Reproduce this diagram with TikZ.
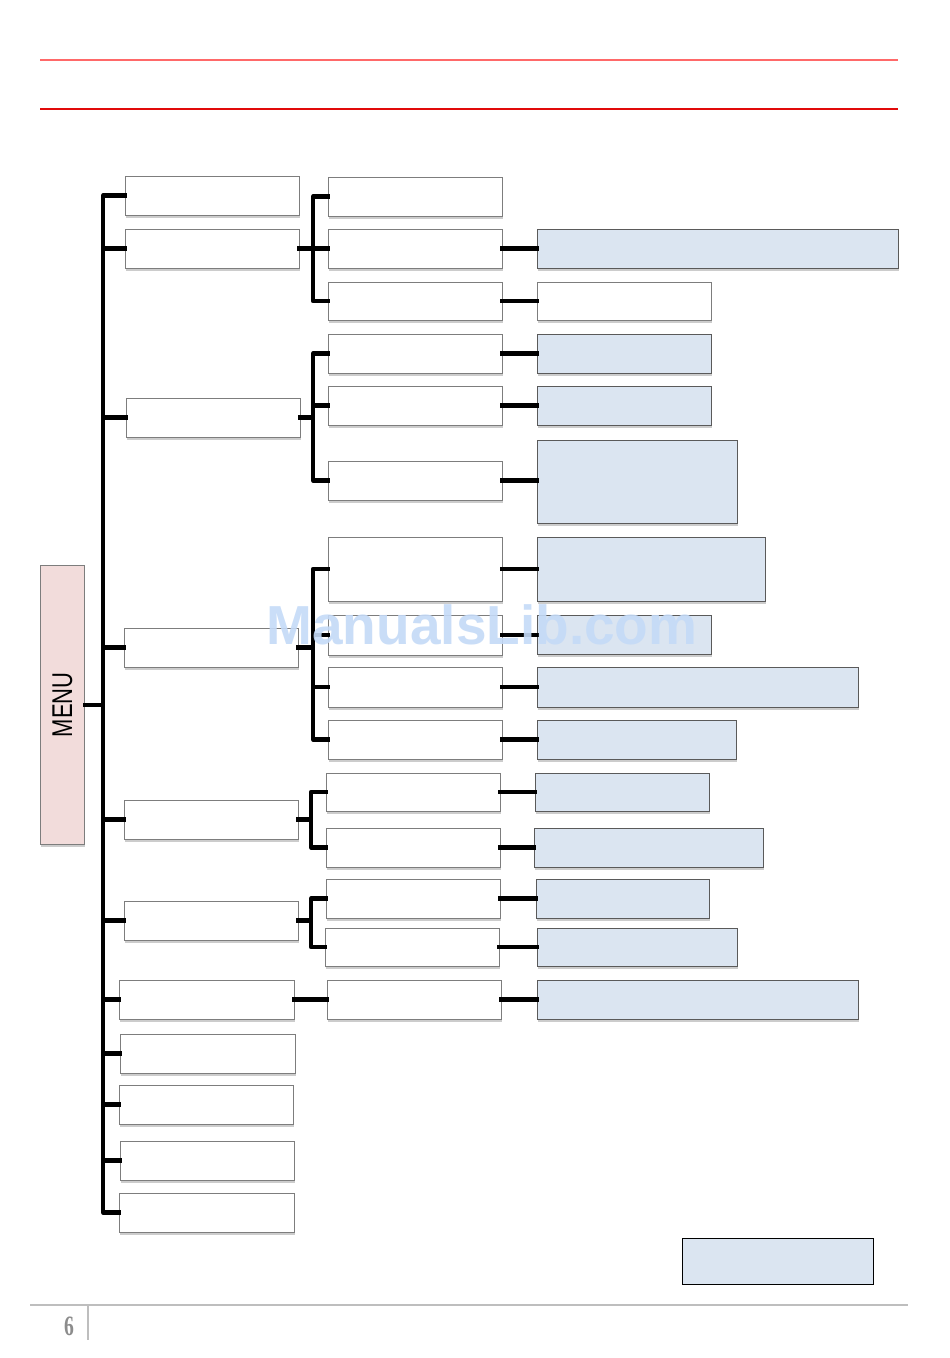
\documentclass[tikz,border=0pt]{standalone}
\usepackage{fontspec}
\setmainfont{Liberation Serif}
\newfontfamily\sansf{Liberation Sans}
\usetikzlibrary{shadows}
\definecolor{pinkfill}{RGB}{242,220,219}
\definecolor{bluefill}{RGB}{219,229,241}
\definecolor{wborder}{RGB}{125,125,125}
\definecolor{bborder}{RGB}{90,90,90}
\definecolor{redA}{RGB}{255,105,105}
\definecolor{redB}{RGB}{225,10,10}
\definecolor{footgray}{RGB}{190,190,190}
\definecolor{numgray}{RGB}{140,140,140}
\definecolor{wmark}{RGB}{196,218,247}
\tikzset{
  boxbase/.style={rectangle, anchor=north west, inner sep=0pt, outer sep=0pt, line width=0.8pt},
  shad/.style={drop shadow={opacity=0.4, shadow xshift=1pt, shadow yshift=-3pt}},
  wbox/.style={boxbase, draw=wborder, fill=white, shad},
  bbox/.style={boxbase, draw=bborder, fill=bluefill, shad},
  conn/.style={line width=4.2pt, line join=round, line cap=rect},
}
\newcommand\wb[5]{\node[wbox, minimum width=#4pt, minimum height=#5pt] (#1) at (#2,#3) {};}
\newcommand\bb[5]{\node[bbox, minimum width=#4pt, minimum height=#5pt] (#1) at (#2,#3) {};}
\begin{document}
\begin{tikzpicture}[x=1pt,y=-1pt]
\useasboundingbox (0,0) rectangle (950,1358);
% header lines
\coordinate (hl1) at (40,60); \coordinate (hr1) at (898,60);
\coordinate (hl2) at (40,109); \coordinate (hr2) at (898,109);
\draw[redA, line width=1.6pt] (hl1) -- (hr1);
\draw[redB, line width=1.2pt] (hl2) -- (hr2);
% footer
\coordinate (fl) at (30,1305); \coordinate (fr) at (908,1305);
\coordinate (ft) at (88,1305); \coordinate (fb) at (88,1340);
\draw[footgray, line width=2.4pt] (fl) -- (fr);
\draw[footgray, line width=2.4pt] (ft) -- (fb);
\node[numgray, font=\bfseries\fontsize{28}{28}\selectfont, xscale=0.7] (pnum) at (69,1326) {6};
% MENU
\node[rectangle, anchor=north west, inner sep=0pt, draw=wborder, line width=0.8pt, fill=pinkfill, minimum width=44pt, minimum height=279pt, shad] (menu) at (40,565) {};
\node[rotate=90, yscale=1.3, font=\sansf\fontsize{22}{22}\selectfont] (menut) at (menu.center) {MENU};
% level 1
\wb{a1}{125}{176}{174}{39}
\wb{a2}{125}{229}{174}{39}
\wb{a3}{126}{398}{174}{39}
\wb{a4}{124}{628}{174}{39}
\wb{a5}{124}{800}{174}{39}
\wb{a6}{124}{901}{174}{39}
\wb{a7}{119}{980}{175}{39}
\wb{a8}{120}{1034}{175}{39}
\wb{a9}{119}{1085}{174}{39}
\wb{a10}{120}{1141}{174}{39}
\wb{a11}{119}{1193}{175}{39}
% level 2
\wb{b1}{328}{177}{174}{39}
\wb{b2}{328}{229}{174}{39}
\wb{b3}{328}{282}{174}{38}
\wb{b4}{328}{334}{174}{39}
\wb{b5}{328}{386}{174}{39}
\wb{b6}{328}{461}{174}{39}
\wb{b7}{328}{537}{174}{64}
\wb{b8}{328}{615}{174}{40}
\wb{b9}{328}{667}{174}{40}
\wb{b10}{328}{720}{174}{39}
\wb{b11}{326}{773}{174}{38}
\wb{b12}{326}{828}{174}{39}
\wb{b13}{326}{879}{174}{39}
\wb{b14}{325}{928}{174}{38}
\wb{b15}{327}{980}{174}{39}
% level 3
\bb{c1}{537}{229}{361}{39}
\wb{c2}{537}{282}{174}{38}
\bb{c3}{537}{334}{174}{39}
\bb{c4}{537}{386}{174}{39}
\bb{c5}{537}{440}{200}{83}
\bb{c6}{537}{537}{228}{64}
\bb{c7}{537}{615}{174}{39}
\bb{c8}{537}{667}{321}{40}
\bb{c9}{537}{720}{199}{39}
\bb{c10}{535}{773}{174}{38}
\bb{c11}{534}{828}{229}{39}
\bb{c12}{536}{879}{173}{39}
\bb{c13}{537}{928}{200}{38}
\bb{c14}{537}{980}{321}{39}
% legend box
\node[boxbase, draw=black, fill=bluefill, minimum width=191pt, minimum height=46pt] (legend) at (682,1238) {};
% trunk
\coordinate (tr) at (103,0);
\draw[conn] (a1.west) -- (a1.west -| tr) -- (a11.west -| tr) -- (a11.west);
\foreach \n in {a2,a3,a4,a5,a6,a7,a8,a9,a10} {\draw[conn] (\n.west) -- (\n.west -| tr);}
\draw[conn] (menu.east) -- (menu.east -| tr);
% group A
\coordinate (kA) at (313,0);
\draw[conn] (b1.west) -- (b1.west -| kA) -- (b3.west -| kA) -- (b3.west);
\draw[conn] (a2.east) -- (b2.west);
% group B
\coordinate (kB) at (313,0);
\draw[conn] (b4.west) -- (b4.west -| kB) -- (b6.west -| kB) -- (b6.west);
\draw[conn] (a3.east) -- (a3.east -| kB);
\draw[conn] (b5.west) -- (b5.west -| kB);
% group C
\coordinate (kC) at (313,0);
\draw[conn] (b7.west) -- (b7.west -| kC) -- (b10.west -| kC) -- (b10.west);
\draw[conn] (a4.east) -- (a4.east -| kC);
\draw[conn] (b8.west) -- (b8.west -| kC);
\draw[conn] (b9.west) -- (b9.west -| kC);
% group D
\coordinate (kD) at (311,0);
\draw[conn] (b11.west) -- (b11.west -| kD) -- (b12.west -| kD) -- (b12.west);
\draw[conn] (a5.east) -- (a5.east -| kD);
% group E
\coordinate (kE) at (311,0);
\draw[conn] (b13.west) -- (b13.west -| kE) -- (b14.west -| kE) -- (b14.west);
\draw[conn] (a6.east) -- (a6.east -| kE);
% direct
\draw[conn] (a7.east) -- (b15.west);
% level 2 -> 3
\draw[conn] (b2.east) -- (b2.east -| c1.west);
\draw[conn] (b3.east) -- (b3.east -| c2.west);
\draw[conn] (b4.east) -- (b4.east -| c3.west);
\draw[conn] (b5.east) -- (b5.east -| c4.west);
\draw[conn] (b6.east) -- (b6.east -| c5.west);
\draw[conn] (b7.east) -- (b7.east -| c6.west);
\draw[conn] (b8.east) -- (b8.east -| c7.west);
\draw[conn] (b9.east) -- (b9.east -| c8.west);
\draw[conn] (b10.east) -- (b10.east -| c9.west);
\draw[conn] (b11.east) -- (b11.east -| c10.west);
\draw[conn] (b12.east) -- (b12.east -| c11.west);
\draw[conn] (b13.east) -- (b13.east -| c12.west);
\draw[conn] (b14.east) -- (b14.east -| c13.west);
\draw[conn] (b15.east) -- (b15.east -| c14.west);
% watermark
\node[wmark, opacity=0.9, font=\sansf\bfseries\fontsize{55}{55}\selectfont] (wm) at (482,625) {ManualsLib.com};
\end{tikzpicture}
\end{document}
